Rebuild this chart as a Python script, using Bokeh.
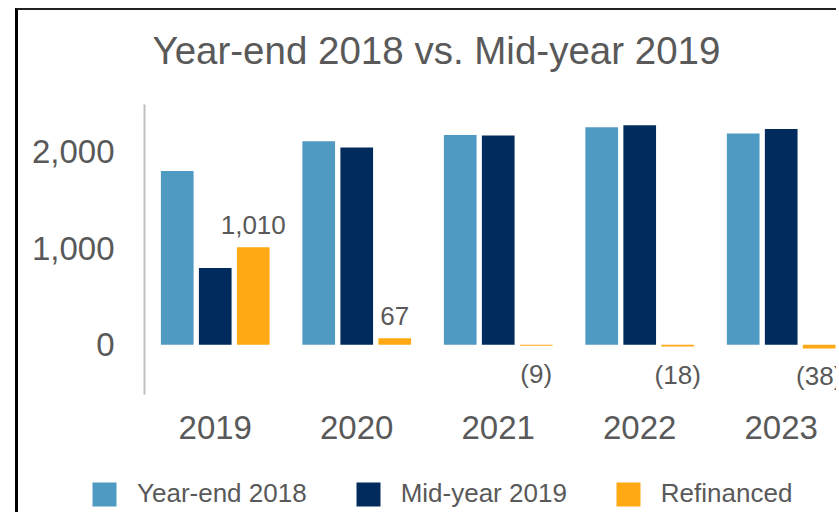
from bokeh.plotting import figure
from bokeh.layouts import column
from bokeh.models import (ColumnDataSource, Range1d, FixedTicker, Legend,
                          LegendItem, Title)
from bokeh.transform import dodge
from bokeh.core.properties import value
from bokeh.embed import file_html
from bokeh.resources import INLINE

# ---- data ----
years = ["2019", "2020", "2021", "2022", "2023"]
year_end_2018 = [1800, 2110, 2175, 2255, 2190]
mid_year_2019 = [795, 2045, 2170, 2275, 2235]
refinanced = [1010, 67, -9, -18, -38]
y_ticks = [0, 1000, 2000]
y_tick_labels = ["0", "1,000", "2,000"]
series_names = ["Year-end 2018", "Mid-year 2019", "Refinanced"]

# ---- style ----
colors = ["#4F9AC2", "#002B5C", "#FFA914"]
TEXT = "#595959"
FONT = "Liberation Sans"
BAR_W = 0.231
OFF = 0.2686

idx = list(range(len(years)))


def fmt(v):
    return f"{v:,}" if v >= 0 else f"({abs(v):,})"


src = ColumnDataSource(dict(x=idx, ye=year_end_2018, my=mid_year_2019, rf=refinanced))
pos = [i for i, v in enumerate(refinanced) if v >= 0]
neg = [i for i, v in enumerate(refinanced) if v < 0]
pos_src = ColumnDataSource(dict(x=[idx[i] for i in pos], rf=[refinanced[i] for i in pos],
                                lbl=[fmt(refinanced[i]) for i in pos]))
neg_src = ColumnDataSource(dict(x=[idx[i] for i in neg], rf=[refinanced[i] for i in neg],
                                lbl=[fmt(refinanced[i]) for i in neg]))

p = figure(width=821, height=464,
           x_range=Range1d(-0.5, 4.412), y_range=Range1d(-515, 2490),
           output_backend="svg", toolbar_location=None,
           min_border_left=126, min_border_right=0,
           min_border_top=94, min_border_bottom=80,
           margin=(8, 0, 0, 15))
p.styles = {"border-left": "3px solid black", "border-top": "2px solid #222222"}

p.outline_line_color = None
p.xgrid.visible = False
p.ygrid.visible = False
p.background_fill_color = "white"
p.border_fill_color = "white"

r1 = p.vbar(x=dodge("x", -OFF), top="ye", bottom=0, width=BAR_W, source=src,
            fill_color=colors[0], line_color=None)
r2 = p.vbar(x=dodge("x", 0), top="my", bottom=0, width=BAR_W, source=src,
            fill_color=colors[1], line_color=None)
r3 = p.vbar(x=dodge("x", OFF), top="rf", bottom=0, width=BAR_W, source=src,
            fill_color=colors[2], line_color=None)

p.text(x=dodge("x", OFF), y="rf", text="lbl", source=pos_src,
       text_align="center", text_baseline="alphabetic", y_offset=-22,
       text_font=value(FONT), text_font_size="26px", text_color=TEXT)
p.text(x=dodge("x", OFF), y="rf", text="lbl", source=neg_src,
       text_align="center", text_baseline="alphabetic", y_offset=28,
       text_font=value(FONT), text_font_size="26px", text_color=TEXT)

# axes
p.xaxis.ticker = FixedTicker(ticks=idx)
p.xaxis.major_label_overrides = {i: y for i, y in zip(idx, years)}
p.xaxis.axis_line_color = None
p.xaxis.major_tick_line_color = None
p.xaxis.minor_tick_line_color = None
p.xaxis.major_label_standoff = 15
p.xaxis.major_label_text_font = FONT
p.xaxis.major_label_text_font_size = "33px"
p.xaxis.major_label_text_color = TEXT

p.yaxis.ticker = FixedTicker(ticks=y_ticks)
p.yaxis.major_label_overrides = {t: l for t, l in zip(y_ticks, y_tick_labels)}
p.yaxis.axis_line_color = "#BFBFBF"
p.yaxis.axis_line_width = 2
p.yaxis.major_tick_line_color = None
p.yaxis.minor_tick_line_color = None
p.yaxis.major_label_standoff = 24
p.yaxis.major_label_text_font = FONT
p.yaxis.major_label_text_font_size = "33px"
p.yaxis.major_label_text_color = TEXT

# title (with an invisible spacer between title and plot area)
p.title.text = "Year-end 2018 vs. Mid-year 2019"
p.title.text_font = FONT
p.title.text_font_size = "38.5px"
p.title.text_font_style = "normal"
p.title.text_color = TEXT
p.title.align = "left"
p.title.offset = 8
p.title.standoff = 0
p.add_layout(Title(text=" ", text_font_size="2px", standoff=29), "above")

# legend strip (separate figure below the chart)
pl = figure(width=821, height=40, output_backend="svg", toolbar_location=None,
            x_axis_type=None, y_axis_type=None,
            x_range=Range1d(-0.5, 4.412), y_range=Range1d(5000, 6000),
            min_border_left=0, min_border_right=0, min_border_top=0, min_border_bottom=0,
            margin=(0, 0, 0, 15))
pl.styles = {"border-left": "3px solid black"}
pl.outline_line_color = None
pl.xgrid.visible = False
pl.ygrid.visible = False
if "frame_align" in pl.properties():
    pl.frame_align = False
    p.frame_align = False
leg_renderers = [pl.vbar(x="x", top=f, bottom=0, width=BAR_W, source=src,
                         fill_color=c, line_color=None)
                 for f, c in zip(["ye", "my", "rf"], colors)]
legend = Legend(items=[LegendItem(label=n, renderers=[r]) for n, r in zip(series_names, leg_renderers)],
                orientation="horizontal", location=(71, 3),
                glyph_width=30, glyph_height=30, label_standoff=18, spacing=46,
                padding=0, margin=0, border_line_color=None, background_fill_alpha=0,
                label_text_font=FONT, label_text_font_size="26px", label_text_color=TEXT,
                label_height=30)
pl.add_layout(legend)

layout = column(p, pl, spacing=0)

open("out.html", "w").write(file_html(layout, INLINE))
